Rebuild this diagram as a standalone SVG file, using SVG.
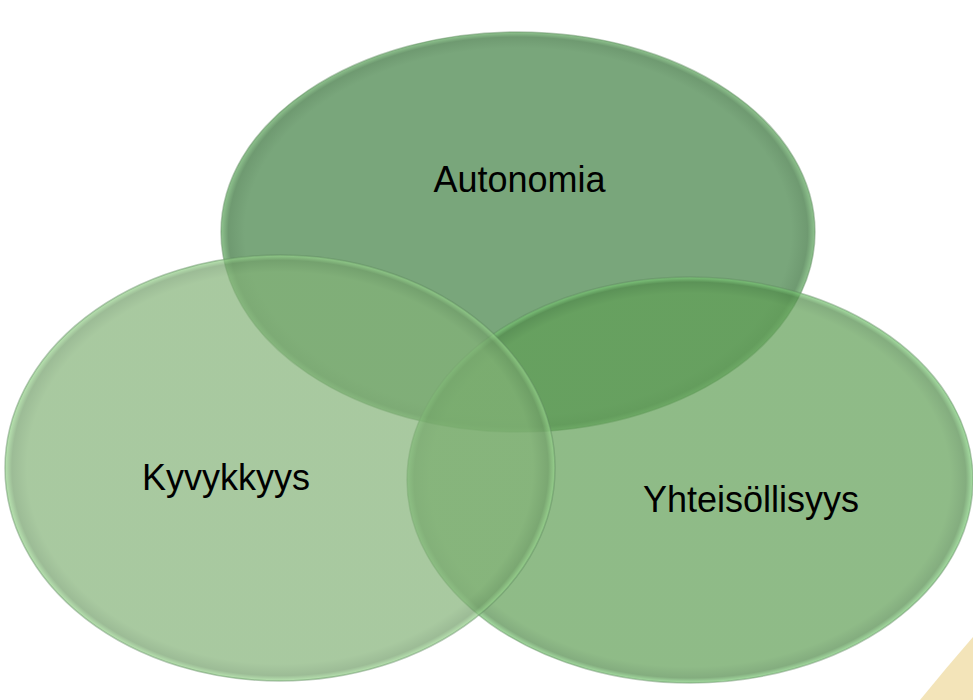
<svg xmlns="http://www.w3.org/2000/svg" width="973" height="700" viewBox="0 0 973 700">
<defs>
<radialGradient id="gTop" cx="0.5" cy="0.5" r="0.5">
<stop offset="0" stop-color="#79a67b"/>
<stop offset="0.92" stop-color="#79a67b"/>
<stop offset="0.975" stop-color="#6f9a71"/>
<stop offset="1" stop-color="#8fc48e"/>
</radialGradient>
<radialGradient id="gRight" cx="0.5" cy="0.5" r="0.5">
<stop offset="0" stop-color="#5f9e54"/>
<stop offset="0.92" stop-color="#5f9e54"/>
<stop offset="0.975" stop-color="#4f8a48"/>
<stop offset="1" stop-color="#7fd07a"/>
</radialGradient>
<radialGradient id="gLeft" cx="0.5" cy="0.5" r="0.5">
<stop offset="0" stop-color="#83b277"/>
<stop offset="0.92" stop-color="#83b277"/>
<stop offset="0.975" stop-color="#729f69"/>
<stop offset="1" stop-color="#9ad98f"/>
</radialGradient>
</defs>
<style>
.lbl{font-family:"Liberation Sans",Arial,sans-serif;font-size:36px;fill:#000;text-anchor:middle}
.rim{fill:none;stroke:#5f8a60;stroke-opacity:0.45;stroke-width:1.5}
</style>
<rect width="973" height="700" fill="#ffffff"/>
<path d="M 920 700 Q 946 668 973 637 L 973 700 Z" fill="#f3e4b9"/>
<g id="autonomia">
<ellipse cx="518" cy="232" rx="297" ry="200" fill="url(#gTop)"/>
<ellipse class="rim" cx="518" cy="232" rx="297" ry="200"/>
</g>
<g id="yhteisollisyys">
<ellipse cx="690" cy="480" rx="283" ry="203" fill="url(#gRight)" opacity="0.7"/>
<ellipse class="rim" cx="690" cy="480" rx="283" ry="203"/>
</g>
<g id="kyvykkyys">
<ellipse cx="280" cy="468" rx="275" ry="213" fill="url(#gLeft)" opacity="0.7"/>
<ellipse class="rim" cx="280" cy="468" rx="275" ry="213"/>
</g>
<g id="labels">
<text class="lbl" x="519.5" y="192">Autonomia</text>
<text class="lbl" x="226" y="490">Kyvykkyys</text>
<text class="lbl" x="751" y="512">Yhteisöllisyys</text>
</g>
</svg>
